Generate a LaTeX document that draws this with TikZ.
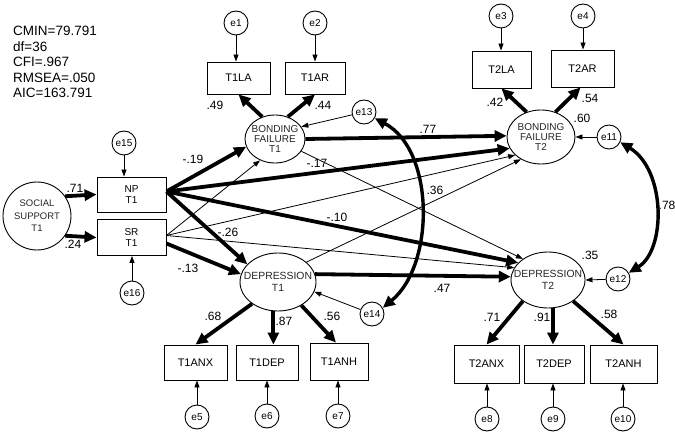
\documentclass[tikz,border=0pt]{standalone}
\usepackage{fontspec}
\setmainfont{Liberation Sans}
\usetikzlibrary{arrows.meta,shapes.geometric}
\begin{document}
\begin{tikzpicture}[x=1pt,y=-1pt,
  obs/.style={draw,line width=0.9pt,inner sep=0pt,align=center,font=\fontsize{11}{11}\selectfont},
  lat/.style={draw,ellipse,line width=0.9pt,inner sep=0pt},
  lattext/.style={inner sep=0pt,align=center,text=black!85},
  err/.style={draw,circle,line width=0.9pt,minimum size=24pt,inner sep=0pt,font=\fontsize{10}{10}\selectfont},
  thk/.style={line width=3.8pt,-{Triangle[length=12pt,width=11pt]}},
  thn/.style={line width=0.8pt,-{Triangle[length=7pt,width=5pt]}},
  cov/.style={line width=3.4pt,{Triangle[length=12pt,width=11pt]}-{Triangle[length=12pt,width=11pt]}},
  coef/.style={inner sep=0pt,font=\fontsize{12}{12}\selectfont}]
\useasboundingbox (0,0) rectangle (675,433);

% statistics
\node[anchor=west,align=left,inner sep=0pt,font=\fontsize{13.5}{15.4}\selectfont] (stats) at (13,62)
  {CMIN=79.791\\df=36\\CFI=.967\\RMSEA=.050\\AIC=163.791};

% latent variables
\node[draw,circle,line width=0.9pt,minimum size=68pt,inner sep=0pt,align=center,
      font=\fontsize{9.5}{12.5}\selectfont,text=black!85] (SS) at (37,216) {SOCIAL\\SUPPORT\\T1};
\node[lat,minimum width=60pt,minimum height=48pt] (BFT1) at (275,139) {};
\node[lattext,font=\fontsize{10}{10}\selectfont] (BFT1t) at (BFT1) {BONDING\\FAILURE\\T1};
\node[lat,minimum width=68pt,minimum height=54pt] (BFT2) at (541,137) {};
\node[lattext,font=\fontsize{10}{10}\selectfont] (BFT2t) at (BFT2) {BONDING\\FAILURE\\T2};
\node[lat,minimum width=76pt,minimum height=58pt] (DEPT1) at (278,282) {};
\node[lattext,font=\fontsize{10.4}{12}\selectfont] (DEPT1t) at (DEPT1) {DEPRESSION\\T1};
\node[lat,minimum width=74pt,minimum height=56pt] (DEPT2) at (548,280) {};
\node[lattext,font=\fontsize{10.4}{12}\selectfont] (DEPT2t) at (DEPT2) {DEPRESSION\\T2};

% observed variables
\node[obs,minimum width=69pt,minimum height=35pt,font=\fontsize{10}{11}\selectfont] (NP) at (131.5,194.5) {NP\\T1};
\node[obs,minimum width=69pt,minimum height=36pt,font=\fontsize{10}{11}\selectfont] (SR) at (131.5,237.5) {SR\\T1};
\node[obs,minimum width=63pt,minimum height=32pt] (T1LA) at (238.5,78) {T1LA};
\node[obs,minimum width=60pt,minimum height=32pt] (T1AR) at (315,78) {T1AR};
\node[obs,minimum width=59pt,minimum height=37pt] (T2LA) at (501.5,69.5) {T2LA};
\node[obs,minimum width=63pt,minimum height=37pt] (T2AR) at (582.5,68.5) {T2AR};
\node[obs,minimum width=63pt,minimum height=35pt] (T1ANX) at (195.5,362.5) {T1ANX};
\node[obs,minimum width=62pt,minimum height=35pt] (T1DEP) at (267,362.5) {T1DEP};
\node[obs,minimum width=58pt,minimum height=37pt] (T1ANH) at (339,361.5) {T1ANH};
\node[obs,minimum width=65pt,minimum height=38pt] (T2ANX) at (486.5,364) {T2ANX};
\node[obs,minimum width=60pt,minimum height=38pt] (T2DEP) at (554,364) {T2DEP};
\node[obs,minimum width=67pt,minimum height=38pt] (T2ANH) at (623.5,364) {T2ANH};

% error terms
\node[err] (e1) at (236,23) {e1};
\node[err] (e2) at (315,23) {e2};
\node[err] (e3) at (501,16) {e3};
\node[err] (e4) at (583,16) {e4};
\node[err] (e5) at (197,417) {e5};
\node[err] (e6) at (267,416) {e6};
\node[err] (e7) at (338,416) {e7};
\node[err] (e8) at (487,419) {e8};
\node[err] (e9) at (553,419) {e9};
\node[err] (e10) at (623,419) {e10};
\node[err] (e11) at (609,137) {e11};
\node[err] (e12) at (618,279) {e12};
\node[err] (e13) at (364,112) {e13};
\node[err] (e14) at (372,314) {e14};
\node[err] (e15) at (124,143) {e15};
\node[err] (e16) at (132,293) {e16};

% origins
\coordinate (npo) at ([yshift=3pt]NP.east);
\coordinate (sro) at ([yshift=2pt]SR.east);
\coordinate (srb) at ([yshift=-6pt]SR.east);

% social support paths
\draw[thk] (SS.35) -- (NP.west);
\draw[thk] (SS.-35) -- (SR.west);
\draw[thn] (e15.south) -- (e15.south |- NP.north);
\draw[thn] (e16.north) -- (e16.north |- SR.south);

% thin structural paths
\draw[thn] (sro) -- (BFT1.235);
\draw[thn] (sro) -- (BFT2.215);
\draw[thn] (sro) -- (DEPT2.160);
\draw[thn] (BFT1.-25) -- (DEPT2.140);
\draw[thn] (DEPT1.35) -- (BFT2.228);

% thick structural paths
\draw[thk] (npo) -- (BFT1.195);
\draw[thk] (npo) -- (BFT2.200);
\draw[thk] (npo) -- (DEPT2.150);
\draw[thk] (npo) -- (DEPT1.150);
\draw[thk] (srb) -- (DEPT1.168);
\draw[thk] (BFT1.0) -- (BFT2.178);
\draw[thk] (DEPT1.12) -- (DEPT2.175);

% measurement paths
\draw[thk] (BFT1.120) -- (T1LA.south);
\draw[thk] (BFT1.60) -- (T1AR.south);
\draw[thk] (BFT2.120) -- (T2LA.south);
\draw[thk] (BFT2.60) -- ([xshift=-2pt]T2AR.south);
\draw[thk] (DEPT1.220) -- (T1ANX.north);
\draw[thk] (DEPT1.261) -- (DEPT1.261 |- T1DEP.north);
\draw[thk] (DEPT1.-45) -- ([xshift=-3pt]T1ANH.north);
\draw[thk] (DEPT2.220) -- (T2ANX.north);
\draw[thk] (DEPT2.280) -- (DEPT2.280 |- T2DEP.north);
\draw[thk] (DEPT2.-40) -- (T2ANH.north);

% error arrows
\draw[thn] (e1.south) -- (e1.south |- T1LA.north);
\draw[thn] (e2.south) -- (e2.south |- T1AR.north);
\draw[thn] (e3.south) -- (e3.south |- T2LA.north);
\draw[thn] (e4.south) -- (e4.south |- T2AR.north);
\draw[thn] (e5.north) -- (e5.north |- T1ANX.south);
\draw[thn] (e6.north) -- (e6.north |- T1DEP.south);
\draw[thn] (e7.north) -- (e7.north |- T1ANH.south);
\draw[thn] (e8.north) -- (e8.north |- T2ANX.south);
\draw[thn] (e9.north) -- (e9.north |- T2DEP.south);
\draw[thn] (e10.north) -- (e10.north |- T2ANH.south);
\draw[thn] (e11) -- (BFT2.east);
\draw[thn] (e12) -- (DEPT2.east);
\draw[thn] (e13) -- (BFT1.25);
\draw[thn] (e14) -- (DEPT1.-15);

% covariances
\draw[cov] (e13.-30) .. controls (435,150) and (435,265) .. (e14.30);
\draw[cov] (e11.-25) .. controls (666,170) and (666,250) .. (e12.30);

% coefficients
\node[coef] (c1) at (75,188) {.71};
\node[coef] (c2) at (73,244) {.24};
\node[coef] (c3) at (193,159) {-.19};
\node[coef] (c4) at (228,232) {-.26};
\node[coef] (c5) at (188,268) {-.13};
\node[coef] (c6) at (317,163) {-.17};
\node[coef] (c7) at (337,217) {-.10};
\node[coef] (c8) at (428,129) {.77};
\node[coef] (c9) at (435,190) {.36};
\node[coef] (c10) at (442,288) {.47};
\node[coef] (c11) at (215,105) {.49};
\node[coef] (c12) at (323,105) {.44};
\node[coef] (c13) at (495,102) {.42};
\node[coef] (c14) at (590,98) {.54};
\node[coef] (c15) at (582,118) {.60};
\node[coef] (c16) at (667,205) {.78};
\node[coef] (c17) at (590,255) {.35};
\node[coef] (c18) at (213,316) {.68};
\node[coef] (c19) at (284,321) {.87};
\node[coef] (c20) at (332,316) {.56};
\node[coef] (c21) at (492,317) {.71};
\node[coef] (c22) at (542,317) {.91};
\node[coef] (c23) at (609,314) {.58};
\end{tikzpicture}
\end{document}
